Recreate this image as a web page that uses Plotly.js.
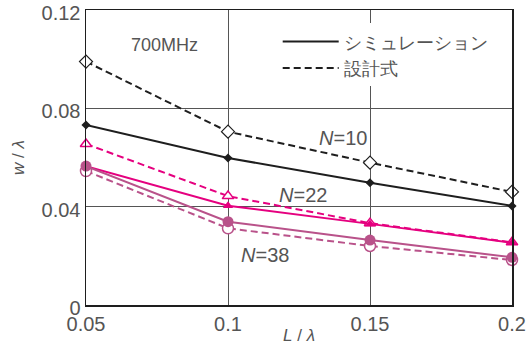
<!DOCTYPE html>
<html><head><meta charset="utf-8">
<script src="https://cdn.plot.ly/plotly-3.0.1.min.js"></script>
<style>html,body{margin:0;padding:0;background:#fff}#c{width:528px;height:345px}</style>
</head><body><div id="c"></div>
<script>
const xL = [0.05, 0.1, 0.15, 0.2];
const simN10 = [0.0732, 0.0598, 0.0497, 0.0403];
const desN10 = [0.0990, 0.0705, 0.0579, 0.0460];
const simN22 = [0.0565, 0.0404, 0.0330, 0.0253];
const desN22 = [0.0655, 0.0443, 0.0333, 0.0255];
const simN38 = [0.0565, 0.0339, 0.0264, 0.0194];
const desN38 = [0.0545, 0.0312, 0.0240, 0.0183];
const legendNames = ['シミュレーション', '設計式'];
const xTicks = [0.05, 0.1, 0.15, 0.2];
const xTickText = ['0.05', '0.1', '0.15', '0.2'];
const yTicks = [0, 0.04, 0.08, 0.12];
const yTickText = ['0', '0.04', '0.08', '0.12'];

const BLK = '#1e1e1e', MAG = '#e5007f', MAU = '#b9528a';
const FONT = 'Liberation Sans, Arial, sans-serif';

function tr(y, color, dash, sym, size, fill, lw) {
  return {x: xL, y: y, mode: 'lines+markers', showlegend: false, cliponaxis: false,
    line: {color: color, width: 2, dash: dash},
    marker: {symbol: sym, size: size, color: fill, line: {color: color, width: lw}}};
}
const data = [
  tr(desN10, BLK, '7px,4px', 'diamond', 10, '#fff', 1.2),
  tr(simN10, BLK, 'solid', 'diamond', 7, BLK, 0),
  tr(desN22, MAG, '7px,4px', 'triangle-up', 10, '#fff', 1.5),
  tr(simN22, MAG, 'solid', 'triangle-up', 9, MAG, 0),
  tr(desN38, MAU, '7px,4px', 'circle', 11, '#fff', 1.5),
  tr(simN38, MAU, 'solid', 'circle', 11, MAU, 0),
  {x: [null], y: [null], mode: 'lines', name: legendNames[0], line: {color: BLK, width: 2}},
  {x: [null], y: [null], mode: 'lines', name: legendNames[1], line: {color: BLK, width: 2, dash: '7px,4px'}}
];
const layout = {
  width: 528, height: 345,
  margin: {l: 86, r: 16, t: 10, b: 40},
  paper_bgcolor: '#fff', plot_bgcolor: '#fff',
  font: {family: FONT, color: '#555', size: 19},
  showlegend: true,
  legend: {x: 0.45, y: 0.955, xanchor: 'left', yanchor: 'top', bgcolor: '#fff',
    font: {size: 18, color: '#555'}, tracegroupgap: 0, itemwidth: 56},
  xaxis: {range: [0.05, 0.2], tickvals: xTicks, ticktext: xTickText, showgrid: true,
    gridcolor: '#555', gridwidth: 1, showline: true, mirror: true, linecolor: BLK, linewidth: 1.5,
    ticks: '', zeroline: false, tickfont: {size: 20, color: '#555'}, ticklabeloverflow: 'allow',
    title: {text: '<i>L</i> / <i>λ</i>', font: {size: 17, color: '#555'}, standoff: 2}},
  yaxis: {range: [0, 0.12], tickvals: yTicks, ticktext: yTickText, showgrid: true,
    gridcolor: '#555', gridwidth: 1, showline: true, mirror: true, linecolor: BLK, linewidth: 1.5,
    ticks: '', zeroline: false, tickfont: {size: 20, color: '#555'}, ticklabeloverflow: 'allow',
    ticklabelshift: 3,
    title: {text: '<i>w</i> / <i>λ</i>', font: {size: 17, color: '#555'}, standoff: 12}},
  annotations: [
    {x: 0.0778, y: 0.1058, xref: 'x', yref: 'y', text: '700MHz', showarrow: false, font: {size: 18, color: '#555'}},
    {x: 0.1405, y: 0.0679, xref: 'x', yref: 'y', text: '<i>N</i>=10', showarrow: false, font: {size: 20, color: '#555'}},
    {x: 0.1264, y: 0.0447, xref: 'x', yref: 'y', text: '<i>N</i>=22', showarrow: false, font: {size: 20, color: '#555'}},
    {x: 0.1130, y: 0.0203, xref: 'x', yref: 'y', text: '<i>N</i>=38', showarrow: false, font: {size: 20, color: '#555'}}
  ]
};
Plotly.newPlot('c', data, layout, {displayModeBar: false, staticPlot: true});
</script></body></html>
